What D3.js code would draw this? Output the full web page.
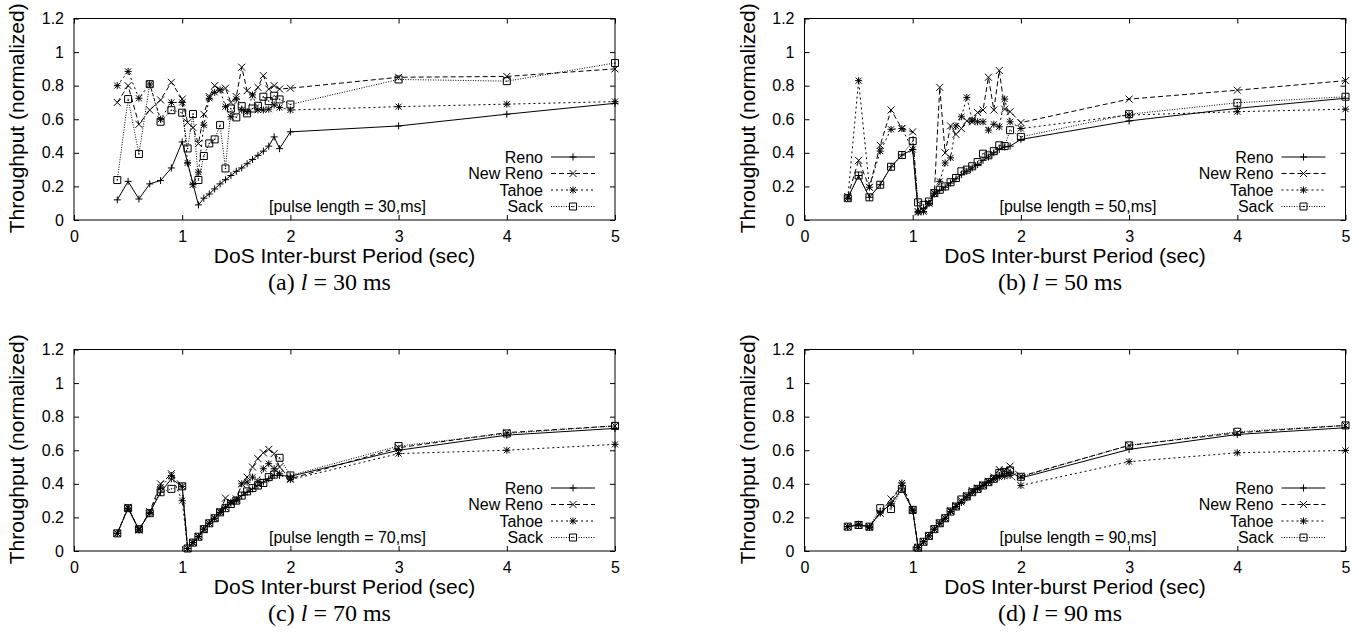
<!DOCTYPE html>
<html>
<head>
<meta charset="utf-8">
<script src="https://d3js.org/d3.v7.min.js"></script>
<style>
  body { margin: 0; background: #fff; }
  svg text { font-family: "Liberation Sans", Arial, Helvetica, sans-serif; fill: #000; }
</style>
</head>
<body>
<svg width="1359" height="637"></svg>

<script>
// inter-burst periods (sec), shared by all four runs
var periods = [0.4,0.5,0.6,0.7,0.8,0.9,1.0,1.05,1.1,1.15,1.2,1.25,1.3,1.35,1.4,1.45,1.5,1.55,1.6,1.65,1.7,1.75,1.8,1.85,1.9,2,3,4,5];

var xTicks = [0, 1, 2, 3, 4, 5];
var yTicks = [0, 0.2, 0.4, 0.6, 0.8, 1, 1.2];

var protocols = ["Reno", "New Reno", "Tahoe", "Sack"];
var pulseLengths = [30, 50, 70, 90];
var panelLetters = ["a", "b", "c", "d"];

// pulse length = 30 ms
var reno30    = [0.12,0.23,0.125,0.215,0.235,0.31,0.465,0.34,0.215,0.09,0.13,0.155,0.185,0.215,0.24,0.265,0.29,0.31,0.335,0.36,0.385,0.41,0.44,0.495,0.425,0.525,0.56,0.63,0.695];
var newreno30 = [0.70,0.80,0.57,0.655,0.715,0.82,0.72,0.58,0.55,0.455,0.63,0.735,0.80,0.775,0.785,0.70,0.735,0.91,0.77,0.745,0.79,0.86,0.78,0.80,0.78,0.785,0.85,0.855,0.90];
var tahoe30   = [0.80,0.885,0.725,0.81,0.60,0.70,0.70,0.34,0.21,0.285,0.565,0.725,0.76,0.775,0.675,0.615,0.72,0.655,0.645,0.745,0.655,0.655,0.66,0.685,0.67,0.655,0.675,0.69,0.705];
var sack30    = [0.238,0.72,0.393,0.809,0.585,0.654,0.639,0.426,0.631,0.238,0.381,0.456,0.48,0.565,0.307,0.664,0.611,0.678,0.635,0.664,0.68,0.734,0.708,0.74,0.718,0.688,0.837,0.827,0.935];

// pulse length = 50 ms
var reno50    = [0.13,0.265,0.135,0.21,0.317,0.387,0.42,0.05,0.07,0.10,0.155,0.175,0.195,0.22,0.245,0.27,0.29,0.31,0.33,0.355,0.375,0.40,0.42,0.435,0.44,0.48,0.59,0.665,0.725];
var newreno50 = [0.14,0.355,0.195,0.445,0.655,0.545,0.525,0.05,0.06,0.10,0.16,0.79,0.40,0.56,0.51,0.545,0.59,0.585,0.64,0.655,0.85,0.655,0.89,0.66,0.645,0.58,0.72,0.773,0.83];
var tahoe50   = [0.13,0.83,0.195,0.41,0.54,0.545,0.42,0.045,0.05,0.10,0.16,0.23,0.34,0.37,0.56,0.615,0.73,0.595,0.585,0.585,0.535,0.57,0.555,0.72,0.585,0.545,0.625,0.645,0.66];
var sack50    = [0.13,0.265,0.135,0.21,0.317,0.387,0.47,0.105,0.09,0.11,0.16,0.18,0.20,0.225,0.25,0.29,0.30,0.32,0.345,0.395,0.385,0.41,0.445,0.44,0.535,0.495,0.63,0.698,0.734];

// pulse length = 70 ms
var reno70    = [0.105,0.255,0.125,0.23,0.35,0.43,0.385,0.015,0.05,0.085,0.13,0.165,0.195,0.23,0.26,0.285,0.305,0.33,0.35,0.37,0.39,0.41,0.43,0.45,0.45,0.445,0.60,0.69,0.73];
var newreno70 = [0.105,0.26,0.125,0.235,0.40,0.46,0.385,0.015,0.05,0.085,0.13,0.165,0.195,0.235,0.315,0.29,0.31,0.40,0.44,0.50,0.55,0.585,0.605,0.58,0.50,0.43,0.615,0.705,0.745];
var tahoe70   = [0.105,0.255,0.13,0.225,0.38,0.45,0.30,0.015,0.05,0.085,0.13,0.165,0.195,0.23,0.26,0.29,0.30,0.40,0.41,0.44,0.415,0.49,0.52,0.49,0.46,0.425,0.58,0.60,0.635];
var sack70    = [0.105,0.255,0.13,0.225,0.35,0.37,0.385,0.015,0.05,0.085,0.13,0.165,0.195,0.23,0.255,0.28,0.30,0.33,0.355,0.375,0.39,0.405,0.44,0.455,0.555,0.45,0.625,0.70,0.745];

// pulse length = 90 ms
var reno90    = [0.145,0.155,0.145,0.23,0.28,0.37,0.245,0.02,0.055,0.09,0.13,0.165,0.195,0.235,0.265,0.29,0.32,0.35,0.37,0.39,0.41,0.43,0.45,0.46,0.47,0.435,0.605,0.694,0.734];
var newreno90 = [0.145,0.155,0.145,0.225,0.31,0.39,0.245,0.02,0.055,0.09,0.13,0.165,0.195,0.24,0.27,0.30,0.33,0.36,0.375,0.395,0.415,0.44,0.485,0.48,0.505,0.445,0.629,0.704,0.748];
var tahoe90   = [0.145,0.16,0.14,0.225,0.28,0.405,0.24,0.02,0.055,0.09,0.13,0.165,0.195,0.235,0.265,0.29,0.32,0.35,0.37,0.39,0.41,0.43,0.44,0.445,0.45,0.39,0.532,0.585,0.599];
var sack90    = [0.145,0.155,0.145,0.255,0.25,0.37,0.245,0.02,0.055,0.09,0.13,0.165,0.195,0.235,0.265,0.307,0.325,0.35,0.37,0.39,0.41,0.43,0.465,0.47,0.48,0.442,0.629,0.71,0.748];

var runs = [
  [reno30, newreno30, tahoe30, sack30],
  [reno50, newreno50, tahoe50, sack50],
  [reno70, newreno70, tahoe70, sack70],
  [reno90, newreno90, tahoe90, sack90]
];

// gnuplot-ish line types
var dashes = [null, "5,3", "2,3", "1,1.5"];
var markers = ["plus", "cross", "star", "box"];

// panel geometry
var lefts = [74, 804.5], tops = [18.5, 349.5];
var plotW = 541, plotH = 201.5;

var svg = d3.select("svg");

function markerPath(type, cx, cy) {
  var h = 3.5, p = d3.path();
  if (type == "plus" || type == "star") {
    p.moveTo(cx - h, cy); p.lineTo(cx + h, cy);
    p.moveTo(cx, cy - h); p.lineTo(cx, cy + h);
  }
  if (type == "cross" || type == "star") {
    var k = type == "star" ? 3 : h;
    p.moveTo(cx - k, cy - k); p.lineTo(cx + k, cy + k);
    p.moveTo(cx - k, cy + k); p.lineTo(cx + k, cy - k);
  }
  if (type == "box") {
    p.rect(cx - h, cy - h, 2 * h, 2 * h);
  }
  return p.toString();
}

function drawMarker(g, type, cx, cy) {
  g.append("path")
    .attr("d", markerPath(type, cx, cy))
    .attr("fill", "none")
    .attr("stroke", "#000")
    .attr("stroke-width", 1);
  if (type == "box")
    g.append("circle").attr("cx", cx).attr("cy", cy).attr("r", 0.7).attr("fill", "#000");
}

runs.forEach(function(series, i) {
  var left = lefts[i % 2], top = tops[Math.floor(i / 2)];
  var g = svg.append("g").attr("transform", "translate(" + left + "," + top + ")");

  var x = d3.scaleLinear().domain([0, 5]).range([0, plotW]);
  var y = d3.scaleLinear().domain([0, 1.2]).range([plotH, 0]);

  // axes, ticks pointing inwards on all four sides
  var fontAttrs = function(sel) {
    sel.attr("font-size", 16).attr("font-family", "Liberation Sans, Arial, sans-serif");
    sel.selectAll("path.domain").remove();
    sel.selectAll("line").attr("stroke", "#000");
  };
  g.append("g").attr("transform", "translate(0," + plotH + ")")
    .call(d3.axisBottom(x).tickValues(xTicks).tickSizeInner(-5).tickSizeOuter(0).tickPadding(11).tickFormat(String))
    .call(fontAttrs);
  g.append("g")
    .call(d3.axisTop(x).tickValues(xTicks).tickSizeInner(-5).tickSizeOuter(0).tickFormat(""))
    .call(fontAttrs);
  g.append("g")
    .call(d3.axisLeft(y).tickValues(yTicks).tickSizeInner(-5).tickSizeOuter(0).tickPadding(10).tickFormat(String))
    .call(fontAttrs);
  g.append("g").attr("transform", "translate(" + plotW + ",0)")
    .call(d3.axisRight(y).tickValues(yTicks).tickSizeInner(-5).tickSizeOuter(0).tickFormat(""))
    .call(fontAttrs);

  g.append("rect")
    .attr("width", plotW).attr("height", plotH)
    .attr("fill", "none").attr("stroke", "#000").attr("stroke-width", 1);

  // data lines
  var line = d3.line()
    .x(function(d, j) { return x(periods[j]); })
    .y(function(d) { return y(d); });

  series.forEach(function(vals, s) {
    g.append("path")
      .attr("d", line(vals))
      .attr("fill", "none")
      .attr("stroke", "#000")
      .attr("stroke-width", 1)
      .attr("stroke-dasharray", dashes[s]);
    var mg = g.append("g");
    vals.forEach(function(v, j) { drawMarker(mg, markers[s], x(periods[j]), y(v)); });
  });

  // legend
  var rowY = [plotH - 63, plotH - 46.5, plotH - 30, plotH - 13.5];
  protocols.forEach(function(name, s) {
    g.append("text")
      .attr("x", plotW - 72).attr("y", rowY[s]).attr("dy", "0.35em")
      .attr("text-anchor", "end").attr("font-size", 16)
      .text(name);
    g.append("line")
      .attr("x1", plotW - 64).attr("x2", plotW - 20)
      .attr("y1", rowY[s]).attr("y2", rowY[s])
      .attr("stroke", "#000").attr("stroke-width", 1)
      .attr("stroke-dasharray", dashes[s]);
    var lg = g.append("g");
    drawMarker(lg, markers[s], plotW - 42, rowY[s]);
  });

  g.append("text")
    .attr("x", 195).attr("y", plotH - 13.5).attr("dy", "0.35em")
    .attr("font-size", 16)
    .text("[pulse length = " + pulseLengths[i] + ",ms]");

  // axis titles
  g.append("text")
    .attr("transform", "translate(-57," + (plotH / 2 - 1) + ") rotate(-90)")
    .attr("text-anchor", "middle").attr("dy", "0.35em")
    .attr("font-size", 21)
    .text("Throughput (normalized)");
  g.append("text")
    .attr("x", plotW / 2).attr("y", plotH + 43)
    .attr("text-anchor", "middle").attr("font-size", 21)
    .text("DoS Inter-burst Period (sec)");

  var cap = g.append("text")
    .attr("x", plotW / 2 - 15).attr("y", plotH + 70)
    .attr("text-anchor", "middle").attr("font-size", 24)
    .style("font-family", "'Liberation Serif', 'Times New Roman', serif");
  cap.append("tspan").text("(" + panelLetters[i] + ") ");
  cap.append("tspan").attr("font-style", "italic").text("l");
  cap.append("tspan").text(" = " + pulseLengths[i] + " ms");
});
</script>
</body>
</html>
